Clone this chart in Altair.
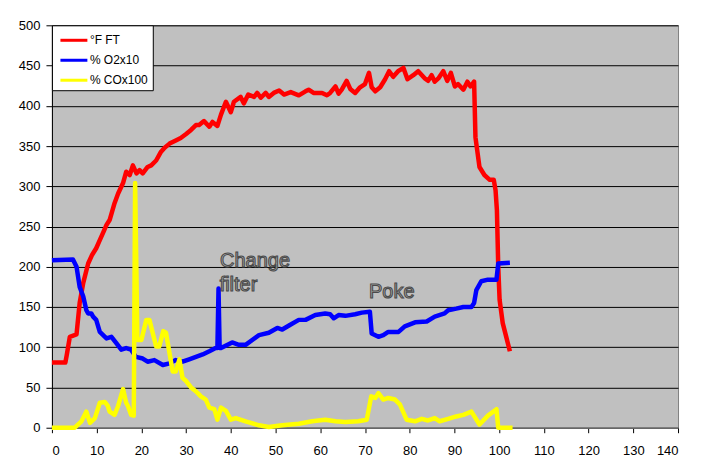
import altair as alt
import pandas as pd

# ---- data ----
series_names = ["°F FT", "% O2x10", "% COx100"]
series_colors = ["#ff0000", "#0000ff", "#ffff00"]

temp_x = [0, 3, 3.3, 4, 5.5, 6.2, 7, 8.1, 9, 9.9, 10.7, 11.5, 12.2, 12.9, 14, 14.8, 15.9,
          16.6, 17.4, 18.1, 18.9, 19.6, 20.3, 21.4, 22.2, 23.3, 24.4, 25.2, 26.3, 27.7,
          28.8, 30, 31.1, 32.2, 32.9, 34.0, 35.2, 35.9, 37.0, 37.8, 38.9, 40.0, 40.7,
          42.2, 42.9, 43.9, 45.2, 45.9, 46.7, 47.8, 48.5, 49.6, 50.8, 51.9, 53.4, 55.2,
          56.7, 57.4, 58.5, 60.4, 61.5, 62.2, 63.4, 64.1, 64.8, 65.9, 66.7, 67.8, 68.9,
          70.0, 70.9, 71.5, 72.3, 73.4, 74.5, 75.4, 76.3, 77.4, 78.6, 79.5, 80.8, 81.9,
          83.4, 84.1, 84.9, 85.6, 86.4, 87.5, 88.4, 89.2, 90.1, 90.8, 92.0, 92.9, 93.6,
          94.4, 94.7, 95.6, 96.7, 97.9, 98.8, 99.2, 99.5, 99.8, 100.1, 100.8, 102.4]
temp_y = [81, 81, 90, 113, 116, 155, 180, 204, 215, 223, 233, 243, 252, 258, 279, 291, 304,
          318, 314, 326, 316, 320, 316, 324, 326, 332, 343, 348, 353, 357,
          360, 365, 370, 376, 376, 381, 374, 380, 375, 389, 405, 392, 405,
          411, 403, 414, 411, 416, 410, 416, 411, 416, 419, 414, 417, 413,
          418, 420, 416, 416, 413, 416, 424, 415, 420, 431, 421, 416, 423,
          427, 441, 423, 418, 423, 433, 443, 436, 443, 447, 433, 438, 443,
          434, 431, 438, 430, 434, 443, 431, 441, 424, 427, 420, 430, 424,
          430, 361, 324, 314, 308, 308, 295, 270, 200, 159, 130, 95]

o2_x = [0, 4.7, 5.5, 6.2, 7, 7.7, 8.1, 8.8, 9.2, 9.9, 10.7, 12.2, 13.3, 14.4, 15.5, 16.6,
        17.7, 18.8, 20.3, 21.4, 22.9, 24.8, 26.3, 27.7, 29.2, 30.7, 32.2, 33.7, 35.2, 36.6,
        37.0, 37.25, 37.5, 37.8, 40.3, 41.8, 43.3, 46.3, 48.5, 50.4, 51.5, 53.3, 55.2, 56.7,
        58.9, 61.1, 62.2, 63.0, 64.1, 65.6, 67.8, 69.3, 71.1, 71.5, 73.0, 74.1, 75.2, 77.5,
        78.9, 81.2, 83.8, 85.6, 87.8, 88.6, 90.4, 92.0, 93.8, 94.4, 94.9, 96.0, 97.5, 99.4,
        99.8, 102.4]
o2_y = [208, 209, 200, 175, 163, 146, 142, 142, 138, 134, 119, 111, 113, 105, 97, 99,
        97, 88, 86, 82, 84, 78, 80, 84, 82, 85, 88, 91, 95, 99,
        99, 173, 99, 99, 106, 103, 103, 115, 118, 124, 122, 128, 134, 134,
        140, 142, 141, 136, 140, 139, 141, 143, 144, 117, 113, 115, 119, 119,
        126, 131, 132, 138, 142, 146, 148, 150, 150, 155, 171, 182, 184, 184,
        204, 205]

co_x = [0, 5.1, 6.6, 7.7, 8.5, 9.6, 10.7, 11.8, 12.5, 12.9, 14, 14.8, 15.9, 16.6, 17,
        17.7, 18.3, 18.6, 19.1, 20, 21.1, 21.8, 23.3, 24, 24.9, 25.5, 27, 27.7, 28.5,
        29.2, 30, 31.1, 31.8, 32.6, 33.3, 34.4, 35.2, 36.3, 37, 37.8, 38.9, 40, 41.1,
        43.3, 46.3, 48.5, 51.5, 55.2, 58.2, 61.1, 63.4, 65.6, 68.5, 70.4, 71.4, 72.3,
        73, 74.1, 75.2, 76.7, 77.8, 79.3, 81.2, 82.7, 84.1, 85.6, 86.7, 88.6, 90.4, 92,
        93.8, 95.6, 97.5, 99.4, 99.8, 103]
co_y = [0, 0, 8, 20, 6, 12, 31, 32, 27, 20, 16, 27, 48, 31, 27,
        16, 15, 304, 109, 109, 134, 134, 101, 101, 120, 118, 70, 70, 85,
        62, 58, 50, 47, 43, 39, 35, 25, 23, 10, 25, 21, 10, 12,
        8, 3, 1, 3, 5, 8, 10, 8, 7, 8, 10, 39, 37,
        43, 35, 37, 35, 29, 10, 8, 11, 9, 12, 8, 11, 14, 16,
        20, 4, 15, 23, 0, 0]

note_text = ["Change", "filter", "Poke"]
note_x = [37.6, 37.5, 70.9]
note_y = [200, 170, 161]

x_ticks = list(range(0, 141, 10))
y_ticks = list(range(0, 501, 50))

# ---- build table ----
rows = []
for name, xs, ys in zip(series_names, [temp_x, o2_x, co_x], [temp_y, o2_y, co_y]):
    for i, (a, b) in enumerate(zip(xs, ys)):
        rows.append({"series": name, "x": a, "y": b, "i": i})
df = pd.DataFrame(rows)
notes = pd.DataFrame({"text": note_text, "x": note_x, "y": note_y})

FONT = "Liberation Sans"

xenc = alt.X("x:Q", scale=alt.Scale(domain=[0, 140], nice=False),
             axis=alt.Axis(values=x_ticks, title=None, grid=False, format="d",
                           domainColor="#808080", tickColor="black", tickSize=5,
                           labelPadding=12, labelFontSize=13, labelFont=FONT,
                           labelColor="black"))
yenc = alt.Y("y:Q", scale=alt.Scale(domain=[0, 500], nice=False),
             axis=alt.Axis(values=y_ticks, title=None, grid=True, gridColor="black",
                           gridOpacity=1, gridWidth=1, domainColor="black",
                           tickColor="black", tickSize=6, labelPadding=6,
                           labelFontSize=13, labelFont=FONT, labelColor="black"))

color = alt.Color("series:N",
                  scale=alt.Scale(domain=series_names, range=series_colors),
                  sort=series_names,
                  legend=alt.Legend(title=None, orient="top-left", offset=0,
                                    fillColor="white", strokeColor="black",
                                    padding=4, symbolType="M-1.42,0L1.42,0",
                                    symbolSize=361, symbolStrokeWidth=3,
                                    labelFontSize=12, labelFont=FONT,
                                    labelColor="black", rowPadding=3,
                                    symbolOffset=7, labelOffset=5))

layers = []
for name in series_names:
    layers.append(
        alt.Chart(df).transform_filter(alt.datum.series == name)
        .mark_line(strokeWidth=4.5, strokeJoin="round")
        .encode(x=xenc, y=yenc, color=color, order="i:Q")
    )

text = alt.Chart(notes).mark_text(
    align="left", baseline="alphabetic", font=FONT, fontSize=20,
    fill="#b4b4b4", stroke="#4a4a4a", strokeWidth=1.1
).encode(x="x:Q", y="y:Q", text="text:N")

chart = alt.layer(*layers, text).properties(
    width=627, height=403,
    autosize=alt.AutoSizeParams(type="none"),
    padding={"left": 44, "top": 17, "right": 22, "bottom": 38},
    background="white",
).configure_view(fill="#c0c0c0", stroke="#808080", strokeWidth=1)

chart.save("out.html", embed_options={"renderer": "svg", "actions": False})
